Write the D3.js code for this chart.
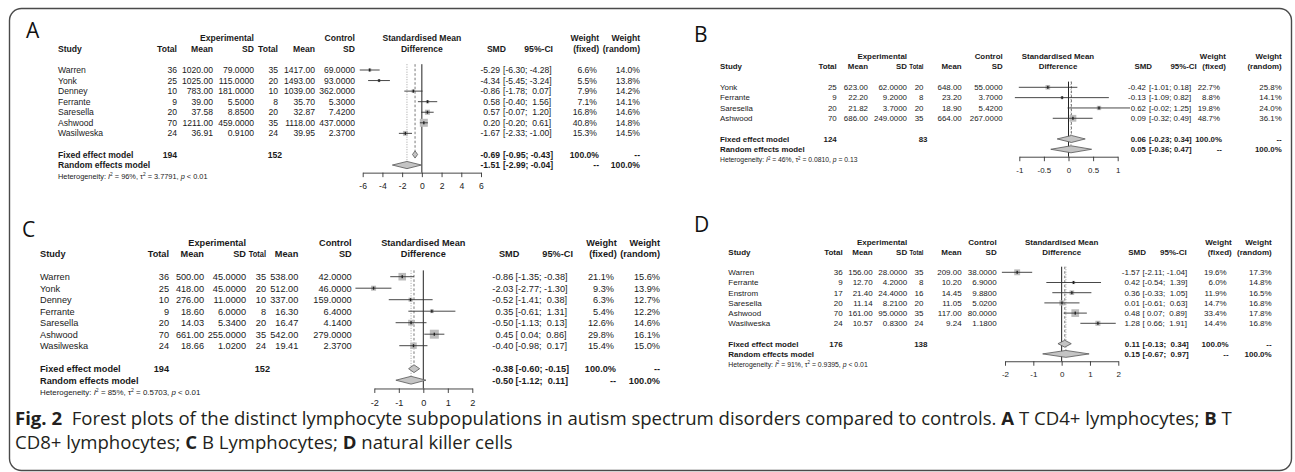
<!DOCTYPE html>
<html>
<head>
<meta charset="utf-8">
<title>Fig. 2 forest plots</title>
<style>
  body { margin: 0; background: #fff; overflow: hidden; }
  svg text { font-family: "Liberation Sans", Arial, sans-serif; fill: #1a1a1a; white-space: pre; }
  svg text.cap { font-family: "Open Sans", sans-serif; fill: #231f20; }
  svg text.panel { font-family: "Open Sans", sans-serif; fill: #111; }
</style>
<script src="https://d3js.org/d3.v7.min.js"></script>
</head>
<body>
<script>
// ---- A: T CD4+ ----
const A_study = ["Warren", "Yonk", "Denney", "Ferrante", "Saresella", "Ashwood", "Wasilweska"];
const A_nE = [36, 25, 10, 9, 20, 70, 24];
const A_meanE = [1020.00, 1025.00, 783.00, 39.00, 37.58, 1211.00, 36.91];
const A_sdE = [79, 115, 181, 5.5, 8.85, 459, 0.91];
const A_nC = [35, 20, 10, 8, 20, 35, 24];
const A_meanC = [1417.00, 1493.00, 1039.00, 35.70, 32.87, 1118.00, 39.95];
const A_sdC = [69, 93, 362, 5.3, 7.42, 437, 2.37];
const A_smd = [-5.29, -4.34, -0.86, 0.58, 0.57, 0.20, -1.67];
const A_lo = [-6.30, -5.45, -1.78, -0.40, -0.07, -0.20, -2.33];
const A_hi = [-4.28, -3.24, 0.07, 1.56, 1.20, 0.61, -1.00];
const A_wFix = [6.6, 5.5, 7.9, 7.1, 16.8, 40.8, 15.3];
const A_wRan = [14.0, 13.8, 14.2, 14.1, 14.6, 14.8, 14.5];
const A_fixed = [-0.69, -0.95, -0.43];
const A_random = [-1.51, -2.99, -0.04];
const A_totals = [194, 152];
const A_het = ["96%", "3.7791", "< 0.01"];
const A_ticks = [-6, -4, -2, 0, 2, 4, 6];

// ---- B: T CD8+ ----
const B_study = ["Yonk", "Ferrante", "Saresella", "Ashwood"];
const B_nE = [25, 9, 20, 70];
const B_meanE = [623.00, 22.20, 21.82, 686.00];
const B_sdE = [62, 9.2, 3.7, 249];
const B_nC = [20, 8, 20, 35];
const B_meanC = [648.00, 23.20, 18.90, 664.00];
const B_sdC = [55, 3.7, 5.42, 267];
const B_smd = [-0.42, -0.13, 0.62, 0.09];
const B_lo = [-1.01, -1.09, -0.02, -0.32];
const B_hi = [0.18, 0.82, 1.25, 0.49];
const B_wFix = [22.7, 8.8, 19.8, 48.7];
const B_wRan = [25.8, 14.1, 24.0, 36.1];
const B_fixed = [0.06, -0.23, 0.34];
const B_random = [0.05, -0.36, 0.47];
const B_totals = [124, 83];
const B_het = ["46%", "0.0810", "= 0.13"];
const B_ticks = [-1, -0.5, 0, 0.5, 1];

// ---- C: B lymphocytes ----
const C_study = ["Warren", "Yonk", "Denney", "Ferrante", "Saresella", "Ashwood", "Wasilweska"];
const C_nE = [36, 25, 10, 9, 20, 70, 24];
const C_meanE = [500.00, 418.00, 276.00, 18.60, 14.03, 661.00, 18.66];
const C_sdE = [45, 45, 11, 6, 5.34, 255, 1.02];
const C_nC = [35, 20, 10, 8, 20, 35, 24];
const C_meanC = [538.00, 512.00, 337.00, 16.30, 16.47, 542.00, 19.41];
const C_sdC = [42, 46, 159, 6.4, 4.14, 279, 2.37];
const C_smd = [-0.86, -2.03, -0.52, 0.35, -0.50, 0.45, -0.40];
const C_lo = [-1.35, -2.77, -1.41, -0.61, -1.13, 0.04, -0.98];
const C_hi = [-0.38, -1.30, 0.38, 1.31, 0.13, 0.86, 0.17];
const C_wFix = [21.1, 9.3, 6.3, 5.4, 12.6, 29.8, 15.4];
const C_wRan = [15.6, 13.9, 12.7, 12.2, 14.6, 16.1, 15.0];
const C_fixed = [-0.38, -0.60, -0.15];
const C_random = [-0.50, -1.12, 0.11];
const C_totals = [194, 152];
const C_het = ["85%", "0.5703", "< 0.01"];
const C_ticks = [-2, -1, 0, 1, 2];

// ---- D: NK cells ----
const D_study = ["Warren", "Ferrante", "Enstrom", "Saresella", "Ashwood", "Wasilweska"];
const D_nE = [36, 9, 17, 20, 70, 24];
const D_meanE = [156.00, 12.70, 21.40, 11.14, 161.00, 10.57];
const D_sdE = [28, 4.2, 24.4, 8.21, 95, 0.83];
const D_nC = [35, 8, 16, 20, 35, 24];
const D_meanC = [209.00, 10.20, 14.45, 11.05, 117.00, 9.24];
const D_sdC = [38, 6.9, 9.88, 5.02, 80, 1.18];
const D_smd = [-1.57, 0.42, 0.36, 0.01, 0.48, 1.28];
const D_lo = [-2.11, -0.54, -0.33, -0.61, 0.07, 0.66];
const D_hi = [-1.04, 1.39, 1.05, 0.63, 0.89, 1.91];
const D_wFix = [19.6, 6.0, 11.9, 14.7, 33.4, 14.4];
const D_wRan = [17.3, 14.8, 16.5, 16.8, 17.8, 16.8];
const D_fixed = [0.11, -0.13, 0.34];
const D_random = [0.15, -0.67, 0.97];
const D_totals = [176, 138];
const D_het = ["91%", "0.9395", "< 0.01"];
const D_ticks = [-2, -1, 0, 1, 2];

const sumWeights = [["100.0%", "--"], ["--", "100.0%"]];

const W = 1295, H = 472;
const svg = d3.select("body").append("svg").attr("width", W).attr("height", H);

svg.append("rect")
    .attr("x", 9.5).attr("y", 8.5).attr("width", 1282).attr("height", 462).attr("rx", 12)
    .attr("fill", "none").attr("stroke", "#4a4a4a").attr("stroke-width", 1.4);

const panels = [
  {name: "A", d: {study: A_study, nE: A_nE, meanE: A_meanE, sdE: A_sdE, nC: A_nC, meanC: A_meanC, sdC: A_sdC,
      smd: A_smd, lo: A_lo, hi: A_hi, wFix: A_wFix, wRan: A_wRan, fixed: A_fixed, random: A_random, totals: A_totals, het: A_het, ticks: A_ticks},
   L: {fs: 8.6, rowH: 10.56, y0: 70, lab: [26, 38], study: 58, nE: 177, mE: 213, sE: 254, nC: 278, mC: 315, sC: 355,
      xr: [362.7, 481], hdrX: 421.9, smdR: 500, ciL: 503, ciHdrR: 553, wfR: 597, wfHdrR: 599, wrR: 640, sq: 8}},
  {name: "B", d: {study: B_study, nE: B_nE, meanE: B_meanE, sdE: B_sdE, nC: B_nC, meanC: B_meanC, sdC: B_sdC,
      smd: B_smd, lo: B_lo, hi: B_hi, wFix: B_wFix, wRan: B_wRan, fixed: B_fixed, random: B_random, totals: B_totals, het: B_het, ticks: B_ticks},
   L: {fs: 7.9, rowH: 10.33, y0: 87.3, lab: [694, 42], study: 720, nE: 836.7, mE: 868, sE: 907, nC: 923.5, mC: 961.7, sC: 1002.7,
      xr: [1019.3, 1117.7], hdrX: 1058, smdR: 1146, ciL: 1149, ciHdrR: 1196.7, wfR: 1220, wfHdrR: 1226, wrR: 1281.7, sq: 6.8}},
  {name: "C", d: {study: C_study, nE: C_nE, meanE: C_meanE, sdE: C_sdE, nC: C_nC, meanC: C_meanC, sdC: C_sdC,
      smd: C_smd, lo: C_lo, hi: C_hi, wFix: C_wFix, wRan: C_wRan, fixed: C_fixed, random: C_random, totals: C_totals, het: C_het, ticks: C_ticks},
   L: {fs: 9.2, rowH: 11.5, y0: 276.7, lab: [22, 237], study: 40, nE: 169, mE: 204, sE: 246, nC: 266, mC: 298.3, sC: 351.7,
      xr: [374.3, 472.3], hdrX: 423.3, smdR: 513.3, ciL: 515.5, ciHdrR: 573, wfR: 614, wfHdrR: 616.7, wrR: 660, sq: 9}},
  {name: "D", d: {study: D_study, nE: D_nE, meanE: D_meanE, sdE: D_sdE, nC: D_nC, meanC: D_meanC, sdC: D_sdC,
      smd: D_smd, lo: D_lo, hi: D_hi, wFix: D_wFix, wRan: D_wRan, fixed: D_fixed, random: D_random, totals: D_totals, het: D_het, ticks: D_ticks},
   L: {fs: 8.0, rowH: 10.2, y0: 272.3, lab: [694, 232], study: 728.3, nE: 842.7, mE: 872.7, sE: 907.2, nC: 923.5, mC: 961.7, sC: 996.7,
      xr: [1005, 1118.3], hdrX: 1061.7, smdR: 1140, ciL: 1142.5, ciHdrR: 1186.7, wfR: 1226.7, wfHdrR: 1231.7, wrR: 1271.7, sq: 7.7}}
];

panels.forEach(p => forest(p.name, p.d, p.L));

// squeeze a text horizontally so that it stays inside [minX, maxX]
function squeeze(t, minX, maxX) {
  const w = t.node().getComputedTextLength();
  const anchor = t.attr("text-anchor") || "start";
  const xp = +t.attr("x");
  const left = anchor === "end" ? xp - w : xp;
  const avail = anchor === "end" ? xp - minX : maxX - xp;
  if (left < minX || left + w > maxX) {
    t.attr("textLength", avail).attr("lengthAdjust", "spacingAndGlyphs");
  }
}

function forest(name, D, L) {
  const g = svg.append("g").style("font-size", L.fs + "px");
  const n = D.study.length;
  const rFix = n + 1, rRan = n + 2, rHet = n + 3;
  const row = d3.scaleLinear().domain([0, 1]).range([L.y0, L.y0 + L.rowH]);
  const x = d3.scaleLinear().domain(d3.extent(D.ticks)).range(L.xr);
  const base = L.fs * 0.36;
  const f2 = v => v.toFixed(2), f4 = v => v.toFixed(4);

  svg.append("text").attr("class", "panel").attr("x", L.lab[0]).attr("y", L.lab[1])
      .style("font-size", "21px").text(name);

  function txt(xp, r, s, anchor, bold) {
    return g.append("text").attr("x", xp).attr("y", row(r) + base)
        .attr("text-anchor", anchor || "start")
        .attr("font-weight", bold ? "bold" : null)
        .text(s);
  }

  // headers
  txt(L.sE, -3, "Experimental", "end", true);
  txt(L.sC, -3, "Control", "end", true);
  txt(L.hdrX, -3, "Standardised Mean", "middle", true);
  txt(L.wfHdrR, -3, "Weight", "end", true);
  txt(L.wrR, -3, "Weight", "end", true);
  txt(L.study, -2, "Study", "start", true);
  txt(L.nE, -2, "Total", "end", true);
  txt(L.mE, -2, "Mean", "end", true);
  const sdHdr = txt(L.sE, -2, "SD", "end", true);
  const totHdr = txt(L.nC, -2, "Total", "end", true);
  txt(L.mC, -2, "Mean", "end", true);
  txt(L.sC, -2, "SD", "end", true);
  txt(L.hdrX, -2, "Difference", "middle", true);
  txt(L.smdR + 6, -2, "SMD", "end", true);
  txt(L.ciHdrR, -2, "95%-CI", "end", true);
  txt(L.wfHdrR, -2, "(fixed)", "end", true);
  txt(L.wrR, -2, "(random)", "end", true);
  squeeze(totHdr, L.sE + L.fs * 0.3, Infinity);

  // study columns
  const padLo = D.lo.concat([D.fixed[1], D.random[1]]).some(v => v < 0);
  const padHi = D.hi.concat([D.fixed[2], D.random[2]]).some(v => v < 0);
  const ci = (lo, hi) => "[" + (padLo && lo >= 0 ? " " : "") + f2(lo) + "; " +
      (padHi && hi >= 0 ? " " : "") + f2(hi) + "]";

  const cols = [
    [D.study, L.study, "start", s => s],
    [D.nE, L.nE, "end", String],
    [D.meanE, L.mE, "end", f2],
    [D.sdE, L.sE, "end", f4],
    [D.nC, L.nC, "end", String],
    [D.meanC, L.mC, "end", f2],
    [D.sdC, L.sC, "end", f4],
    [D.smd, L.smdR, "end", f2],
    [D.wFix, L.wfR, "end", v => v.toFixed(1) + "%"],
    [D.wRan, L.wrR, "end", v => v.toFixed(1) + "%"]
  ];
  cols.forEach(([vals, xp, anchor, fmt]) => {
    g.selectAll(null).data(vals).join("text")
        .attr("x", xp).attr("y", (v, i) => row(i) + base)
        .attr("text-anchor", anchor).text(fmt);
  });
  g.selectAll(null).data(D.lo).join("text")
      .attr("x", L.ciL).attr("y", (v, i) => row(i) + base)
      .attr("xml:space", "preserve")
      .text((v, i) => ci(v, D.hi[i]))
      .each(function () { squeeze(d3.select(this), -Infinity, L.wfR - L.fs * 3.3); });

  // summary rows
  txt(L.study, rFix, "Fixed effect model", "start", true);
  txt(L.study, rRan, "Random effects model", "start", true);
  txt(L.nE, rFix, String(D.totals[0]), "end", true);
  txt(L.nC + 4, rFix, String(D.totals[1]), "end", true);
  [[rFix, D.fixed, sumWeights[0]], [rRan, D.random, sumWeights[1]]].forEach(([r, s, w]) => {
    txt(L.smdR, r, f2(s[0]), "end", true);
    const c = txt(L.ciL, r, ci(s[1], s[2]), "start", true).attr("xml:space", "preserve");
    squeeze(c, -Infinity, L.wfR - L.fs * 3.6);
    txt(L.wfR + 2, r, w[0], "end", true);
    txt(L.wrR, r, w[1], "end", true);
  });

  // heterogeneity
  const hs = L.fs * 0.86;
  const het = g.append("text").attr("x", L.study).attr("y", row(rHet) + base).style("font-size", hs + "px");
  het.append("tspan").text("Heterogeneity: ");
  het.append("tspan").attr("font-style", "italic").text("I");
  het.append("tspan").attr("dy", -hs * 0.4).style("font-size", hs * 0.65 + "px").text("2");
  het.append("tspan").attr("dy", hs * 0.4).text(" = " + D.het[0] + ", \u03c4");
  het.append("tspan").attr("dy", -hs * 0.4).style("font-size", hs * 0.65 + "px").text("2");
  het.append("tspan").attr("dy", hs * 0.4).text(" = " + D.het[1] + ", ");
  het.append("tspan").attr("font-style", "italic").text("p");
  het.append("tspan").text(" " + D.het[2]);

  // plot
  const top = row(0) - L.rowH * 0.55;
  const axisY = row(rRan) + L.rowH * 0.72;
  const dh = L.rowH * 0.34;

  g.append("line").attr("x1", x(0)).attr("x2", x(0)).attr("y1", top).attr("y2", axisY)
      .attr("stroke", "#222").attr("stroke-width", 1);
  g.append("line").attr("x1", x(D.fixed[0])).attr("x2", x(D.fixed[0]))
      .attr("y1", top).attr("y2", row(rFix) - dh)
      .attr("stroke", "#555").attr("stroke-width", 0.8).attr("stroke-dasharray", "2.5,2");
  g.append("line").attr("x1", x(D.random[0])).attr("x2", x(D.random[0]))
      .attr("y1", top).attr("y2", row(rRan) - dh)
      .attr("stroke", "#8a8a8a").attr("stroke-width", 0.8).attr("stroke-dasharray", "1,1.5");

  const wMax = d3.max(D.wFix);
  const side = i => L.sq * Math.sqrt(D.wFix[i] / wMax);
  g.selectAll(null).data(D.smd).join("rect")
      .attr("x", (v, i) => x(v) - side(i) / 2)
      .attr("y", (v, i) => row(i) - side(i) / 2)
      .attr("width", (v, i) => side(i)).attr("height", (v, i) => side(i))
      .attr("fill", "#bcbcbc");
  g.selectAll(null).data(D.lo).join("line")
      .attr("x1", v => x(v)).attr("x2", (v, i) => x(D.hi[i]))
      .attr("y1", (v, i) => row(i)).attr("y2", (v, i) => row(i))
      .attr("stroke", "#333").attr("stroke-width", 0.9);
  g.selectAll(null).data(D.smd).join("rect")
      .attr("x", v => x(v) - 0.7).attr("y", (v, i) => row(i) - 1.5)
      .attr("width", 1.4).attr("height", 3).attr("fill", "#222");

  const diamond = d3.line();
  [[rFix, D.fixed], [rRan, D.random]].forEach(([r, s]) => {
    const yy = row(r);
    g.append("path")
        .attr("d", diamond([[x(s[1]), yy], [x(s[0]), yy - dh], [x(s[2]), yy], [x(s[0]), yy + dh]]) + "Z")
        .attr("fill", "#c4c4c4").attr("stroke", "#555").attr("stroke-width", 0.8);
  });

  const axis = d3.axisBottom(x).tickValues(D.ticks).tickFormat(d => String(d))
      .tickSize(4.5).tickSizeOuter(0).tickPadding(6);
  const ax = g.append("g").attr("transform", `translate(0,${axisY})`).call(axis);
  ax.attr("font-family", null).attr("font-size", null);
  ax.selectAll("path, line").attr("stroke", "#333").attr("stroke-width", 0.9);
  ax.selectAll("text").attr("fill", "#1a1a1a");
}

// caption
const cap1 = svg.append("text").attr("class", "cap").attr("x", 15).attr("y", 425).style("font-size", "16px");
cap1.append("tspan").attr("font-weight", "bold").text("Fig. 2");
cap1.append("tspan").text("  Forest plots of the distinct lymphocyte subpopulations in autism spectrum disorders compared to controls. ");
cap1.append("tspan").attr("font-weight", "bold").text("A");
cap1.append("tspan").text(" T CD4+ lymphocytes; ");
cap1.append("tspan").attr("font-weight", "bold").text("B");
cap1.append("tspan").text(" T");

const cap2 = svg.append("text").attr("class", "cap").attr("x", 15).attr("y", 449).style("font-size", "16px");
cap2.append("tspan").text("CD8+ lymphocytes; ");
cap2.append("tspan").attr("font-weight", "bold").text("C");
cap2.append("tspan").text(" B Lymphocytes; ");
cap2.append("tspan").attr("font-weight", "bold").text("D");
cap2.append("tspan").text(" natural killer cells");

const capW = cap1.node().getComputedTextLength();
const capSize = 16 * 1218 / capW;
cap1.style("font-size", capSize + "px");
cap2.style("font-size", capSize + "px");
</script>
</body>
</html>
